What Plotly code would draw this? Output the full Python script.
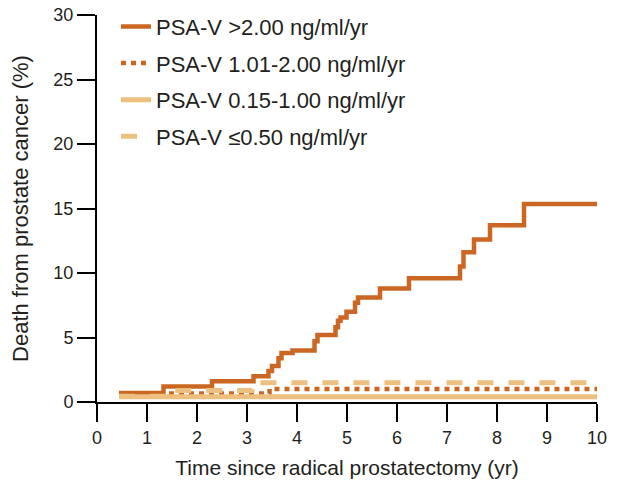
import plotly.graph_objects as go

# Data (time in years, cumulative % death)
main_t = [0.44, 1.33, 2.30, 3.13, 3.43, 3.50, 3.63, 3.69, 3.91, 4.35, 4.41, 4.77, 4.82,
          4.87, 4.99, 5.16, 5.22, 5.66, 6.24, 7.26, 7.33, 7.54, 7.86, 8.54, 10.0]
main_y = [0.7, 1.2, 1.6, 2.0, 2.4, 2.8, 3.4, 3.8, 4.0, 4.7, 5.2, 5.8, 6.3,
          6.55, 7.0, 7.7, 8.1, 8.8, 9.6, 10.5, 11.6, 12.6, 13.7, 15.35, 15.35]

mid_t = [0.44, 3.45, 10.0]
mid_y = [0.65, 1.0, 1.0]

low_t = [0.44, 10.0]
low_y = [0.4, 0.4]

lowest_t = [0.44, 1.40, 3.10, 10.0]
lowest_y = [0.45, 0.9, 1.5, 1.5]

names = ["PSA-V >2.00 ng/ml/yr", "PSA-V 1.01-2.00 ng/ml/yr",
         "PSA-V 0.15-1.00 ng/ml/yr", "PSA-V ≤0.50 ng/ml/yr"]

x_ticks = list(range(0, 11))
y_ticks = [0, 5, 10, 15, 20, 25, 30]

DARK = "#CB6722"
LIGHT = "#EDC080"
FONT = "Liberation Sans"
TXT = "#231F20"

fig = go.Figure()
fig.add_trace(go.Scatter(x=main_t, y=main_y, mode="lines", line_shape="hv", name=names[0],
                         line=dict(color=DARK, width=4.5), legendrank=1, legendgroup="a"))
fig.add_trace(go.Scatter(x=mid_t, y=mid_y, mode="lines", line_shape="hv", name=names[1],
                         line=dict(color=DARK, width=4.5, dash="5px,5px"), legendrank=2, legendgroup="b"))
fig.add_trace(go.Scatter(x=lowest_t, y=lowest_y, mode="lines", line_shape="hv", name=names[3],
                         line=dict(color=LIGHT, width=5, dash="16px,15px"), legendrank=4, legendgroup="d"))
fig.add_trace(go.Scatter(x=low_t, y=low_y, mode="lines", line_shape="hv", name=names[2],
                         line=dict(color=LIGHT, width=5), legendrank=3, legendgroup="c"))

axis_common = dict(showline=True, linecolor="black", linewidth=2, ticks="outside",
                   ticklen=18, tickwidth=2, tickcolor="black", showgrid=False, zeroline=False,
                   automargin=False, ticklabeloverflow="allow",
                   tickfont=dict(family=FONT, size=18, color=TXT))

# figure is placed at an 8px offset by the page body margin
fig.update_layout(
    width=620, height=474,
    margin=dict(l=89, r=31, t=7, b=80, autoexpand=False),
    paper_bgcolor="white", plot_bgcolor="white",
    font=dict(family=FONT, color=TXT),
    xaxis=dict(range=[0, 10], tickvals=x_ticks,
               title=dict(text="Time since radical prostatectomy (yr)",
                          font=dict(family=FONT, size=21, color=TXT), standoff=14),
               **axis_common),
    yaxis=dict(range=[0, 30], tickvals=y_ticks,
               title=dict(text="Death from prostate cancer (%)",
                          font=dict(family=FONT, size=22, color=TXT), standoff=20),
               **axis_common),
    legend=dict(x=0.038, y=1.024, xanchor="left", yanchor="top",
                font=dict(family=FONT, size=22, color=TXT),
                bgcolor="rgba(0,0,0,0)", tracegroupgap=5, traceorder="grouped"),
    showlegend=True,
)

fig.write_html("out.html")
